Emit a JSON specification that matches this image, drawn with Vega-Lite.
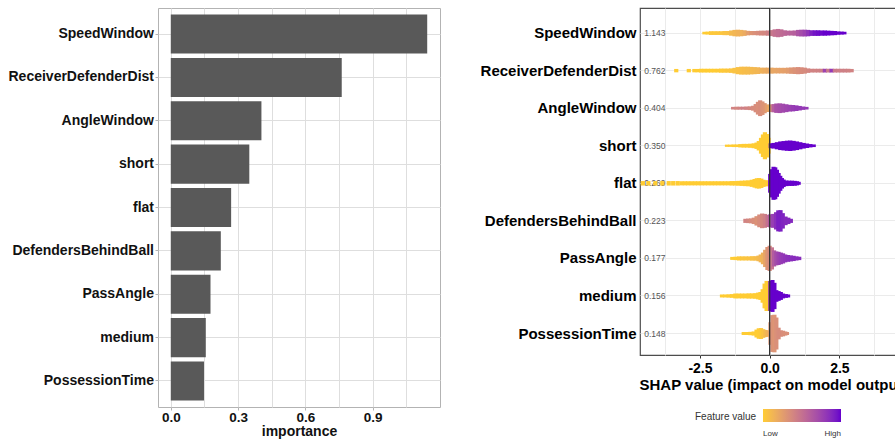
{
  "$schema": "https://vega.github.io/schema/vega-lite/v6.json",
  "padding": {"left": 7, "top": 6, "right": 0, "bottom": 0},
  "background": "white",
  "config": {"font": "Liberation Sans"},
  "datasets": {
    "imp": [
      {"feature": "SpeedWindow", "importance": 1.143},
      {"feature": "ReceiverDefenderDist", "importance": 0.762},
      {"feature": "AngleWindow", "importance": 0.404},
      {"feature": "short", "importance": 0.350},
      {"feature": "flat", "importance": 0.269},
      {"feature": "DefendersBehindBall", "importance": 0.223},
      {"feature": "PassAngle", "importance": 0.177},
      {"feature": "medium", "importance": 0.156},
      {"feature": "PossessionTime", "importance": 0.148}
    ],
    "swarm": [
      {"feature": "SpeedWindow", "shap": -2.34, "density": 0.07, "value": 0},
      {"feature": "SpeedWindow", "shap": -2.22, "density": 0.08, "value": 0},
      {"feature": "SpeedWindow", "shap": -2.10, "density": 0.10, "value": 0.02},
      {"feature": "SpeedWindow", "shap": -1.98, "density": 0.10, "value": 0.02},
      {"feature": "SpeedWindow", "shap": -1.86, "density": 0.10, "value": 0.03},
      {"feature": "SpeedWindow", "shap": -1.74, "density": 0.10, "value": 0.03},
      {"feature": "SpeedWindow", "shap": -1.62, "density": 0.11, "value": 0.05},
      {"feature": "SpeedWindow", "shap": -1.50, "density": 0.11, "value": 0.06},
      {"feature": "SpeedWindow", "shap": -1.38, "density": 0.14, "value": 0.10},
      {"feature": "SpeedWindow", "shap": -1.26, "density": 0.17, "value": 0.12},
      {"feature": "SpeedWindow", "shap": -1.14, "density": 0.18, "value": 0.14},
      {"feature": "SpeedWindow", "shap": -1.02, "density": 0.17, "value": 0.15},
      {"feature": "SpeedWindow", "shap": -0.90, "density": 0.15, "value": 0.18},
      {"feature": "SpeedWindow", "shap": -0.78, "density": 0.12, "value": 0.25},
      {"feature": "SpeedWindow", "shap": -0.66, "density": 0.11, "value": 0.30},
      {"feature": "SpeedWindow", "shap": -0.54, "density": 0.11, "value": 0.33},
      {"feature": "SpeedWindow", "shap": -0.42, "density": 0.12, "value": 0.35},
      {"feature": "SpeedWindow", "shap": -0.30, "density": 0.13, "value": 0.37},
      {"feature": "SpeedWindow", "shap": -0.18, "density": 0.13, "value": 0.38},
      {"feature": "SpeedWindow", "shap": -0.06, "density": 0.14, "value": 0.42},
      {"feature": "SpeedWindow", "shap": 0.06, "density": 0.16, "value": 0.46},
      {"feature": "SpeedWindow", "shap": 0.18, "density": 0.20, "value": 0.50},
      {"feature": "SpeedWindow", "shap": 0.30, "density": 0.22, "value": 0.52},
      {"feature": "SpeedWindow", "shap": 0.42, "density": 0.20, "value": 0.53},
      {"feature": "SpeedWindow", "shap": 0.54, "density": 0.15, "value": 0.55},
      {"feature": "SpeedWindow", "shap": 0.66, "density": 0.13, "value": 0.57},
      {"feature": "SpeedWindow", "shap": 0.78, "density": 0.13, "value": 0.58},
      {"feature": "SpeedWindow", "shap": 0.90, "density": 0.14, "value": 0.60},
      {"feature": "SpeedWindow", "shap": 1.02, "density": 0.17, "value": 0.66},
      {"feature": "SpeedWindow", "shap": 1.14, "density": 0.18, "value": 0.70},
      {"feature": "SpeedWindow", "shap": 1.26, "density": 0.18, "value": 0.75},
      {"feature": "SpeedWindow", "shap": 1.38, "density": 0.17, "value": 0.82},
      {"feature": "SpeedWindow", "shap": 1.50, "density": 0.15, "value": 0.90},
      {"feature": "SpeedWindow", "shap": 1.62, "density": 0.15, "value": 0.95},
      {"feature": "SpeedWindow", "shap": 1.74, "density": 0.15, "value": 0.97},
      {"feature": "SpeedWindow", "shap": 1.86, "density": 0.14, "value": 0.98},
      {"feature": "SpeedWindow", "shap": 1.98, "density": 0.14, "value": 1},
      {"feature": "SpeedWindow", "shap": 2.10, "density": 0.13, "value": 1},
      {"feature": "SpeedWindow", "shap": 2.22, "density": 0.12, "value": 1},
      {"feature": "SpeedWindow", "shap": 2.34, "density": 0.11, "value": 1},
      {"feature": "SpeedWindow", "shap": 2.46, "density": 0.09, "value": 1},
      {"feature": "SpeedWindow", "shap": 2.58, "density": 0.08, "value": 1},
      {"feature": "SpeedWindow", "shap": 2.68, "density": 0.07, "value": 1},

      {"feature": "ReceiverDefenderDist", "shap": -3.35, "density": 0.09, "value": 0},
      {"feature": "ReceiverDefenderDist", "shap": -2.90, "density": 0.09, "value": 0},
      {"feature": "ReceiverDefenderDist", "shap": -2.70, "density": 0.09, "value": 0},
      {"feature": "ReceiverDefenderDist", "shap": -2.58, "density": 0.09, "value": 0},
      {"feature": "ReceiverDefenderDist", "shap": -2.46, "density": 0.10, "value": 0},
      {"feature": "ReceiverDefenderDist", "shap": -2.34, "density": 0.10, "value": 0},
      {"feature": "ReceiverDefenderDist", "shap": -2.22, "density": 0.10, "value": 0},
      {"feature": "ReceiverDefenderDist", "shap": -2.10, "density": 0.10, "value": 0},
      {"feature": "ReceiverDefenderDist", "shap": -1.98, "density": 0.10, "value": 0},
      {"feature": "ReceiverDefenderDist", "shap": -1.86, "density": 0.10, "value": 0.01},
      {"feature": "ReceiverDefenderDist", "shap": -1.74, "density": 0.11, "value": 0.01},
      {"feature": "ReceiverDefenderDist", "shap": -1.62, "density": 0.11, "value": 0.02},
      {"feature": "ReceiverDefenderDist", "shap": -1.50, "density": 0.11, "value": 0.03},
      {"feature": "ReceiverDefenderDist", "shap": -1.38, "density": 0.12, "value": 0.04},
      {"feature": "ReceiverDefenderDist", "shap": -1.26, "density": 0.15, "value": 0.05},
      {"feature": "ReceiverDefenderDist", "shap": -1.14, "density": 0.19, "value": 0.06},
      {"feature": "ReceiverDefenderDist", "shap": -1.02, "density": 0.21, "value": 0.07},
      {"feature": "ReceiverDefenderDist", "shap": -0.90, "density": 0.21, "value": 0.08},
      {"feature": "ReceiverDefenderDist", "shap": -0.78, "density": 0.21, "value": 0.09},
      {"feature": "ReceiverDefenderDist", "shap": -0.66, "density": 0.20, "value": 0.10},
      {"feature": "ReceiverDefenderDist", "shap": -0.54, "density": 0.19, "value": 0.11},
      {"feature": "ReceiverDefenderDist", "shap": -0.42, "density": 0.18, "value": 0.12},
      {"feature": "ReceiverDefenderDist", "shap": -0.30, "density": 0.16, "value": 0.15},
      {"feature": "ReceiverDefenderDist", "shap": -0.18, "density": 0.16, "value": 0.17},
      {"feature": "ReceiverDefenderDist", "shap": -0.06, "density": 0.16, "value": 0.19},
      {"feature": "ReceiverDefenderDist", "shap": 0.06, "density": 0.16, "value": 0.20},
      {"feature": "ReceiverDefenderDist", "shap": 0.18, "density": 0.15, "value": 0.21},
      {"feature": "ReceiverDefenderDist", "shap": 0.30, "density": 0.15, "value": 0.22},
      {"feature": "ReceiverDefenderDist", "shap": 0.42, "density": 0.15, "value": 0.23},
      {"feature": "ReceiverDefenderDist", "shap": 0.54, "density": 0.15, "value": 0.24},
      {"feature": "ReceiverDefenderDist", "shap": 0.66, "density": 0.16, "value": 0.26},
      {"feature": "ReceiverDefenderDist", "shap": 0.78, "density": 0.17, "value": 0.30},
      {"feature": "ReceiverDefenderDist", "shap": 0.90, "density": 0.18, "value": 0.32},
      {"feature": "ReceiverDefenderDist", "shap": 1.02, "density": 0.19, "value": 0.34},
      {"feature": "ReceiverDefenderDist", "shap": 1.14, "density": 0.18, "value": 0.35},
      {"feature": "ReceiverDefenderDist", "shap": 1.26, "density": 0.16, "value": 0.36},
      {"feature": "ReceiverDefenderDist", "shap": 1.38, "density": 0.12, "value": 0.38},
      {"feature": "ReceiverDefenderDist", "shap": 1.50, "density": 0.10, "value": 0.40},
      {"feature": "ReceiverDefenderDist", "shap": 1.62, "density": 0.10, "value": 0.40},
      {"feature": "ReceiverDefenderDist", "shap": 1.74, "density": 0.10, "value": 0.41},
      {"feature": "ReceiverDefenderDist", "shap": 1.86, "density": 0.10, "value": 0.42},
      {"feature": "ReceiverDefenderDist", "shap": 1.98, "density": 0.10, "value": 0.75},
      {"feature": "ReceiverDefenderDist", "shap": 2.10, "density": 0.10, "value": 0.45},
      {"feature": "ReceiverDefenderDist", "shap": 2.22, "density": 0.10, "value": 0.80},
      {"feature": "ReceiverDefenderDist", "shap": 2.34, "density": 0.10, "value": 0.45},
      {"feature": "ReceiverDefenderDist", "shap": 2.46, "density": 0.10, "value": 0.43},
      {"feature": "ReceiverDefenderDist", "shap": 2.58, "density": 0.10, "value": 0.42},
      {"feature": "ReceiverDefenderDist", "shap": 2.70, "density": 0.10, "value": 0.42},
      {"feature": "ReceiverDefenderDist", "shap": 2.82, "density": 0.10, "value": 0.41},
      {"feature": "ReceiverDefenderDist", "shap": 2.94, "density": 0.09, "value": 0.40},

      {"feature": "AngleWindow", "shap": -1.31, "density": 0.07, "value": 0.40},
      {"feature": "AngleWindow", "shap": -1.19, "density": 0.08, "value": 0.38},
      {"feature": "AngleWindow", "shap": -1.07, "density": 0.08, "value": 0.40},
      {"feature": "AngleWindow", "shap": -0.95, "density": 0.08, "value": 0.42},
      {"feature": "AngleWindow", "shap": -0.83, "density": 0.09, "value": 0.40},
      {"feature": "AngleWindow", "shap": -0.71, "density": 0.10, "value": 0.38},
      {"feature": "AngleWindow", "shap": -0.59, "density": 0.13, "value": 0.36},
      {"feature": "AngleWindow", "shap": -0.50, "density": 0.22, "value": 0.35},
      {"feature": "AngleWindow", "shap": -0.42, "density": 0.34, "value": 0.34},
      {"feature": "AngleWindow", "shap": -0.34, "density": 0.42, "value": 0.35},
      {"feature": "AngleWindow", "shap": -0.26, "density": 0.36, "value": 0.32},
      {"feature": "AngleWindow", "shap": -0.18, "density": 0.27, "value": 0.30},
      {"feature": "AngleWindow", "shap": -0.10, "density": 0.20, "value": 0.25},
      {"feature": "AngleWindow", "shap": -0.02, "density": 0.18, "value": 0.20},
      {"feature": "AngleWindow", "shap": 0.06, "density": 0.20, "value": 0.30},
      {"feature": "AngleWindow", "shap": 0.14, "density": 0.22, "value": 0.60},
      {"feature": "AngleWindow", "shap": 0.24, "density": 0.25, "value": 0.68},
      {"feature": "AngleWindow", "shap": 0.36, "density": 0.26, "value": 0.70},
      {"feature": "AngleWindow", "shap": 0.48, "density": 0.24, "value": 0.72},
      {"feature": "AngleWindow", "shap": 0.60, "density": 0.21, "value": 0.74},
      {"feature": "AngleWindow", "shap": 0.72, "density": 0.18, "value": 0.76},
      {"feature": "AngleWindow", "shap": 0.84, "density": 0.17, "value": 0.78},
      {"feature": "AngleWindow", "shap": 0.96, "density": 0.15, "value": 0.80},
      {"feature": "AngleWindow", "shap": 1.08, "density": 0.12, "value": 0.80},
      {"feature": "AngleWindow", "shap": 1.20, "density": 0.09, "value": 0.80},
      {"feature": "AngleWindow", "shap": 1.32, "density": 0.07, "value": 0.80},

      {"feature": "short", "shap": -1.53, "density": 0.06, "value": 0},
      {"feature": "short", "shap": -1.41, "density": 0.06, "value": 0},
      {"feature": "short", "shap": -1.29, "density": 0.07, "value": 0},
      {"feature": "short", "shap": -1.17, "density": 0.07, "value": 0},
      {"feature": "short", "shap": -1.05, "density": 0.09, "value": 0},
      {"feature": "short", "shap": -0.93, "density": 0.10, "value": 0},
      {"feature": "short", "shap": -0.81, "density": 0.10, "value": 0},
      {"feature": "short", "shap": -0.69, "density": 0.11, "value": 0},
      {"feature": "short", "shap": -0.57, "density": 0.13, "value": 0},
      {"feature": "short", "shap": -0.47, "density": 0.17, "value": 0},
      {"feature": "short", "shap": -0.39, "density": 0.25, "value": 0},
      {"feature": "short", "shap": -0.31, "density": 0.42, "value": 0},
      {"feature": "short", "shap": -0.24, "density": 0.60, "value": 0},
      {"feature": "short", "shap": -0.17, "density": 0.72, "value": 0},
      {"feature": "short", "shap": -0.10, "density": 0.62, "value": 0},
      {"feature": "short", "shap": -0.04, "density": 0.42, "value": 0},
      {"feature": "short", "shap": 0.04, "density": 0.13, "value": 1},
      {"feature": "short", "shap": 0.14, "density": 0.15, "value": 1},
      {"feature": "short", "shap": 0.26, "density": 0.19, "value": 1},
      {"feature": "short", "shap": 0.38, "density": 0.23, "value": 1},
      {"feature": "short", "shap": 0.50, "density": 0.25, "value": 1},
      {"feature": "short", "shap": 0.62, "density": 0.27, "value": 1},
      {"feature": "short", "shap": 0.74, "density": 0.28, "value": 1},
      {"feature": "short", "shap": 0.86, "density": 0.26, "value": 1},
      {"feature": "short", "shap": 0.98, "density": 0.23, "value": 1},
      {"feature": "short", "shap": 1.10, "density": 0.19, "value": 1},
      {"feature": "short", "shap": 1.22, "density": 0.15, "value": 1},
      {"feature": "short", "shap": 1.34, "density": 0.12, "value": 1},
      {"feature": "short", "shap": 1.46, "density": 0.09, "value": 1},
      {"feature": "short", "shap": 1.58, "density": 0.07, "value": 1},

      {"feature": "flat", "shap": -4.55, "density": 0.12, "value": 0},
      {"feature": "flat", "shap": -4.35, "density": 0.12, "value": 0},
      {"feature": "flat", "shap": -4.10, "density": 0.12, "value": 0},
      {"feature": "flat", "shap": -3.85, "density": 0.12, "value": 0},
      {"feature": "flat", "shap": -3.62, "density": 0.12, "value": 0},
      {"feature": "flat", "shap": -3.46, "density": 0.12, "value": 0},
      {"feature": "flat", "shap": -3.30, "density": 0.12, "value": 0},
      {"feature": "flat", "shap": -3.16, "density": 0.11, "value": 0},
      {"feature": "flat", "shap": -3.04, "density": 0.11, "value": 0},
      {"feature": "flat", "shap": -2.92, "density": 0.11, "value": 0},
      {"feature": "flat", "shap": -2.80, "density": 0.11, "value": 0},
      {"feature": "flat", "shap": -2.68, "density": 0.11, "value": 0},
      {"feature": "flat", "shap": -2.56, "density": 0.11, "value": 0},
      {"feature": "flat", "shap": -2.44, "density": 0.11, "value": 0},
      {"feature": "flat", "shap": -2.32, "density": 0.11, "value": 0},
      {"feature": "flat", "shap": -2.20, "density": 0.11, "value": 0},
      {"feature": "flat", "shap": -2.08, "density": 0.11, "value": 0},
      {"feature": "flat", "shap": -1.96, "density": 0.11, "value": 0},
      {"feature": "flat", "shap": -1.84, "density": 0.11, "value": 0},
      {"feature": "flat", "shap": -1.72, "density": 0.11, "value": 0},
      {"feature": "flat", "shap": -1.60, "density": 0.11, "value": 0},
      {"feature": "flat", "shap": -1.48, "density": 0.11, "value": 0},
      {"feature": "flat", "shap": -1.36, "density": 0.12, "value": 0},
      {"feature": "flat", "shap": -1.24, "density": 0.12, "value": 0},
      {"feature": "flat", "shap": -1.12, "density": 0.13, "value": 0},
      {"feature": "flat", "shap": -1.00, "density": 0.14, "value": 0},
      {"feature": "flat", "shap": -0.88, "density": 0.15, "value": 0},
      {"feature": "flat", "shap": -0.76, "density": 0.16, "value": 0},
      {"feature": "flat", "shap": -0.64, "density": 0.19, "value": 0},
      {"feature": "flat", "shap": -0.54, "density": 0.23, "value": 0},
      {"feature": "flat", "shap": -0.46, "density": 0.27, "value": 0},
      {"feature": "flat", "shap": -0.38, "density": 0.28, "value": 0},
      {"feature": "flat", "shap": -0.30, "density": 0.25, "value": 0},
      {"feature": "flat", "shap": -0.22, "density": 0.19, "value": 0},
      {"feature": "flat", "shap": -0.14, "density": 0.16, "value": 0},
      {"feature": "flat", "shap": -0.06, "density": 0.15, "value": 0},
      {"feature": "flat", "shap": 0.02, "density": 0.50, "value": 1},
      {"feature": "flat", "shap": 0.08, "density": 0.75, "value": 1},
      {"feature": "flat", "shap": 0.14, "density": 0.88, "value": 1},
      {"feature": "flat", "shap": 0.20, "density": 0.85, "value": 1},
      {"feature": "flat", "shap": 0.26, "density": 0.72, "value": 1},
      {"feature": "flat", "shap": 0.32, "density": 0.55, "value": 1},
      {"feature": "flat", "shap": 0.38, "density": 0.40, "value": 1},
      {"feature": "flat", "shap": 0.44, "density": 0.28, "value": 1},
      {"feature": "flat", "shap": 0.50, "density": 0.20, "value": 1},
      {"feature": "flat", "shap": 0.60, "density": 0.15, "value": 1},
      {"feature": "flat", "shap": 0.70, "density": 0.14, "value": 1},
      {"feature": "flat", "shap": 0.80, "density": 0.14, "value": 1},
      {"feature": "flat", "shap": 0.90, "density": 0.13, "value": 1},
      {"feature": "flat", "shap": 0.98, "density": 0.11, "value": 1},
      {"feature": "flat", "shap": 1.04, "density": 0.08, "value": 1},

      {"feature": "DefendersBehindBall", "shap": -0.87, "density": 0.11, "value": 0.40},
      {"feature": "DefendersBehindBall", "shap": -0.77, "density": 0.12, "value": 0.38},
      {"feature": "DefendersBehindBall", "shap": -0.67, "density": 0.13, "value": 0.36},
      {"feature": "DefendersBehindBall", "shap": -0.57, "density": 0.17, "value": 0.34},
      {"feature": "DefendersBehindBall", "shap": -0.47, "density": 0.25, "value": 0.32},
      {"feature": "DefendersBehindBall", "shap": -0.37, "density": 0.34, "value": 0.35},
      {"feature": "DefendersBehindBall", "shap": -0.27, "density": 0.39, "value": 0.38},
      {"feature": "DefendersBehindBall", "shap": -0.17, "density": 0.37, "value": 0.42},
      {"feature": "DefendersBehindBall", "shap": -0.07, "density": 0.33, "value": 0.50},
      {"feature": "DefendersBehindBall", "shap": 0.03, "density": 0.35, "value": 0.70},
      {"feature": "DefendersBehindBall", "shap": 0.13, "density": 0.37, "value": 0.78},
      {"feature": "DefendersBehindBall", "shap": 0.23, "density": 0.46, "value": 0.85},
      {"feature": "DefendersBehindBall", "shap": 0.31, "density": 0.56, "value": 0.92},
      {"feature": "DefendersBehindBall", "shap": 0.39, "density": 0.57, "value": 0.92},
      {"feature": "DefendersBehindBall", "shap": 0.47, "density": 0.41, "value": 0.90},
      {"feature": "DefendersBehindBall", "shap": 0.57, "density": 0.23, "value": 0.88},
      {"feature": "DefendersBehindBall", "shap": 0.67, "density": 0.17, "value": 0.88},
      {"feature": "DefendersBehindBall", "shap": 0.76, "density": 0.11, "value": 0.88},

      {"feature": "PassAngle", "shap": -1.34, "density": 0.08, "value": 0},
      {"feature": "PassAngle", "shap": -1.22, "density": 0.09, "value": 0},
      {"feature": "PassAngle", "shap": -1.10, "density": 0.11, "value": 0.02},
      {"feature": "PassAngle", "shap": -0.98, "density": 0.11, "value": 0.03},
      {"feature": "PassAngle", "shap": -0.86, "density": 0.11, "value": 0.04},
      {"feature": "PassAngle", "shap": -0.74, "density": 0.11, "value": 0.05},
      {"feature": "PassAngle", "shap": -0.62, "density": 0.12, "value": 0.06},
      {"feature": "PassAngle", "shap": -0.50, "density": 0.12, "value": 0.08},
      {"feature": "PassAngle", "shap": -0.40, "density": 0.15, "value": 0.10},
      {"feature": "PassAngle", "shap": -0.32, "density": 0.21, "value": 0.12},
      {"feature": "PassAngle", "shap": -0.24, "density": 0.31, "value": 0.15},
      {"feature": "PassAngle", "shap": -0.16, "density": 0.46, "value": 0.22},
      {"feature": "PassAngle", "shap": -0.08, "density": 0.61, "value": 0.30},
      {"feature": "PassAngle", "shap": 0.00, "density": 0.67, "value": 0.36},
      {"feature": "PassAngle", "shap": 0.08, "density": 0.59, "value": 0.48},
      {"feature": "PassAngle", "shap": 0.16, "density": 0.43, "value": 0.62},
      {"feature": "PassAngle", "shap": 0.24, "density": 0.37, "value": 0.70},
      {"feature": "PassAngle", "shap": 0.32, "density": 0.35, "value": 0.75},
      {"feature": "PassAngle", "shap": 0.40, "density": 0.31, "value": 0.78},
      {"feature": "PassAngle", "shap": 0.48, "density": 0.27, "value": 0.80},
      {"feature": "PassAngle", "shap": 0.56, "density": 0.21, "value": 0.82},
      {"feature": "PassAngle", "shap": 0.66, "density": 0.18, "value": 0.84},
      {"feature": "PassAngle", "shap": 0.76, "density": 0.16, "value": 0.85},
      {"feature": "PassAngle", "shap": 0.86, "density": 0.14, "value": 0.86},
      {"feature": "PassAngle", "shap": 0.96, "density": 0.11, "value": 0.86},
      {"feature": "PassAngle", "shap": 1.06, "density": 0.09, "value": 0.86},

      {"feature": "medium", "shap": -1.71, "density": 0.08, "value": 0},
      {"feature": "medium", "shap": -1.59, "density": 0.08, "value": 0},
      {"feature": "medium", "shap": -1.47, "density": 0.09, "value": 0},
      {"feature": "medium", "shap": -1.35, "density": 0.10, "value": 0},
      {"feature": "medium", "shap": -1.23, "density": 0.13, "value": 0},
      {"feature": "medium", "shap": -1.11, "density": 0.13, "value": 0},
      {"feature": "medium", "shap": -0.99, "density": 0.13, "value": 0},
      {"feature": "medium", "shap": -0.87, "density": 0.13, "value": 0},
      {"feature": "medium", "shap": -0.75, "density": 0.14, "value": 0},
      {"feature": "medium", "shap": -0.63, "density": 0.14, "value": 0},
      {"feature": "medium", "shap": -0.51, "density": 0.15, "value": 0},
      {"feature": "medium", "shap": -0.41, "density": 0.18, "value": 0},
      {"feature": "medium", "shap": -0.33, "density": 0.21, "value": 0},
      {"feature": "medium", "shap": -0.25, "density": 0.36, "value": 0},
      {"feature": "medium", "shap": -0.18, "density": 0.66, "value": 0},
      {"feature": "medium", "shap": -0.11, "density": 0.80, "value": 0},
      {"feature": "medium", "shap": -0.05, "density": 0.78, "value": 0},
      {"feature": "medium", "shap": 0.03, "density": 0.80, "value": 1},
      {"feature": "medium", "shap": 0.10, "density": 0.85, "value": 1},
      {"feature": "medium", "shap": 0.17, "density": 0.70, "value": 1},
      {"feature": "medium", "shap": 0.24, "density": 0.31, "value": 1},
      {"feature": "medium", "shap": 0.32, "density": 0.26, "value": 1},
      {"feature": "medium", "shap": 0.40, "density": 0.21, "value": 1},
      {"feature": "medium", "shap": 0.48, "density": 0.13, "value": 1},
      {"feature": "medium", "shap": 0.58, "density": 0.10, "value": 1},
      {"feature": "medium", "shap": 0.66, "density": 0.08, "value": 1},

      {"feature": "PossessionTime", "shap": -0.93, "density": 0.08, "value": 0},
      {"feature": "PossessionTime", "shap": -0.81, "density": 0.08, "value": 0},
      {"feature": "PossessionTime", "shap": -0.69, "density": 0.09, "value": 0},
      {"feature": "PossessionTime", "shap": -0.57, "density": 0.11, "value": 0},
      {"feature": "PossessionTime", "shap": -0.47, "density": 0.21, "value": 0},
      {"feature": "PossessionTime", "shap": -0.39, "density": 0.28, "value": 0},
      {"feature": "PossessionTime", "shap": -0.31, "density": 0.29, "value": 0.02},
      {"feature": "PossessionTime", "shap": -0.23, "density": 0.23, "value": 0.05},
      {"feature": "PossessionTime", "shap": -0.15, "density": 0.19, "value": 0.10},
      {"feature": "PossessionTime", "shap": -0.07, "density": 0.17, "value": 0.15},
      {"feature": "PossessionTime", "shap": 0.03, "density": 0.60, "value": 0.30},
      {"feature": "PossessionTime", "shap": 0.10, "density": 0.98, "value": 0.32},
      {"feature": "PossessionTime", "shap": 0.17, "density": 1.00, "value": 0.30},
      {"feature": "PossessionTime", "shap": 0.24, "density": 0.85, "value": 0.33},
      {"feature": "PossessionTime", "shap": 0.32, "density": 0.31, "value": 0.35},
      {"feature": "PossessionTime", "shap": 0.40, "density": 0.17, "value": 0.35},
      {"feature": "PossessionTime", "shap": 0.48, "density": 0.15, "value": 0.34},
      {"feature": "PossessionTime", "shap": 0.56, "density": 0.11, "value": 0.33},
      {"feature": "PossessionTime", "shap": 0.62, "density": 0.08, "value": 0.33}
    ]
  },
  "hconcat": [
    {
      "width": 282,
      "height": 399,
      "data": {"name": "imp"},
      "view": {"stroke": "#B3B3B3", "strokeWidth": 1},
      "mark": {"type": "bar", "color": "#595959"},
      "encoding": {
        "y": {
          "field": "feature",
          "type": "nominal",
          "sort": ["SpeedWindow", "ReceiverDefenderDist", "AngleWindow", "short", "flat", "DefendersBehindBall", "PassAngle", "medium", "PossessionTime"],
          "scale": {"paddingInner": 0.1, "paddingOuter": 0.15},
          "axis": {
            "title": null,
            "labelFontSize": 14,
            "labelFontWeight": "bold",
            "labelColor": "#111111",
            "labelPadding": 1.5,
            "labelLimit": 300,
            "tickSize": 3,
            "tickColor": "#B3B3B3",
            "domain": false,
            "grid": true,
            "gridColor": "#DEDEDE",
            "bandPosition": 0.5
          }
        },
        "x": {
          "field": "importance",
          "type": "quantitative",
          "scale": {"domain": [-0.057, 1.2], "nice": false},
          "axis": {
            "title": "importance",
            "titleFontSize": 14,
            "titleFontWeight": "bold",
            "titleColor": "#111111",
            "titlePadding": 0,
            "values": [0, 0.15, 0.3, 0.45, 0.6, 0.75, 0.9, 1.05],
            "labelExpr": "indexof([0, 0.3, 0.6, 0.9], datum.value) >= 0 ? format(datum.value, '.1f') : ''",
            "labelFontSize": 13.5,
            "labelFontWeight": "bold",
            "labelColor": "#111111",
            "labelPadding": 0.5,
            "tickSize": 3,
            "tickColor": "#B3B3B3",
            "tickOpacity": {"condition": {"test": "indexof([0, 0.3, 0.6, 0.9], datum.value) < 0", "value": 0}, "value": 1},
            "domain": false,
            "grid": true,
            "gridColor": "#DEDEDE"
          }
        }
      }
    },
    {
      "width": 266,
      "height": 347,
      "view": {"stroke": "#4D4D4D", "strokeWidth": 1.2},
      "layer": [
        {
          "data": {"name": "imp"},
          "mark": {"type": "text", "align": "left", "baseline": "middle", "fontSize": 8.5, "color": "#555555"},
          "encoding": {
            "y": {
              "field": "feature",
              "type": "nominal",
              "sort": ["SpeedWindow", "ReceiverDefenderDist", "AngleWindow", "short", "flat", "DefendersBehindBall", "PassAngle", "medium", "PossessionTime"],
              "scale": {"paddingInner": 0, "paddingOuter": 0.12, "align": 0.7},
              "axis": {
                "title": null,
                "labelFontSize": 15,
                "labelFontWeight": "bold",
                "labelColor": "#000000",
                "labelPadding": 4,
                "labelLimit": 300,
                "tickSize": 0,
                "domain": false,
                "grid": true,
                "gridColor": "#EBEBEB",
                "bandPosition": 0.5
              }
            },
            "x": {"datum": -4.5, "type": "quantitative"},
            "text": {"field": "importance", "type": "quantitative", "format": ".3f"}
          }
        },
        {
          "data": {"name": "swarm"},
          "mark": {"type": "tick", "thickness": 4.2, "opacity": 1, "orient": "vertical"},
          "encoding": {
            "y": {
              "field": "feature",
              "type": "nominal",
              "sort": ["SpeedWindow", "ReceiverDefenderDist", "AngleWindow", "short", "flat", "DefendersBehindBall", "PassAngle", "medium", "PossessionTime"],
              "scale": {"paddingInner": 0, "paddingOuter": 0.12, "align": 0.7},
              "axis": {
                "title": null,
                "labelFontSize": 15,
                "labelFontWeight": "bold",
                "labelColor": "#000000",
                "labelPadding": 4,
                "labelLimit": 300,
                "tickSize": 0,
                "domain": false,
                "grid": true,
                "gridColor": "#EBEBEB",
                "bandPosition": 0.5
              }
            },
            "x": {
              "field": "shap",
              "type": "quantitative",
              "scale": {"domain": [-4.65, 4.89], "nice": false, "zero": false},
              "axis": {
                "title": "SHAP value (impact on model output)",
                "titleFontSize": 15,
                "titleFontWeight": "bold",
                "titleColor": "#000000",
                "titlePadding": 2,
                "values": [-3.75, -2.5, -1.25, 0, 1.25, 2.5, 3.75],
                "labelExpr": "datum.value % 2.5 == 0 ? replace(format(datum.value, '.1f'), '\u2212', '-') : ''",
                "labelFontSize": 14,
                "labelFontWeight": "bold",
                "labelColor": "#000000",
                "labelPadding": 3,
                "tickSize": 3,
                "tickColor": "#333333",
                "tickOpacity": {"condition": {"test": "datum.value % 2.5 != 0", "value": 0}, "value": 1},
                "domain": false,
                "grid": true,
                "gridColor": "#EBEBEB"
              }
            },
            "size": {
              "field": "density",
              "type": "quantitative",
              "scale": {"domain": [0, 2], "range": [0, 75.2]},
              "legend": null
            },
            "color": {
              "field": "value",
              "type": "quantitative",
              "scale": {"range": ["#FFCC33", "#6600CC"], "interpolate": "lab"},
              "legend": {
                "type": "gradient",
                "orient": "none",
                "legendX": 537,
                "legendY": 401,
                "direction": "horizontal",
                "title": "Feature value",
                "titleOrient": "left",
                "titleFontSize": 10,
                "titleFontWeight": "normal",
                "titleColor": "#333333",
                "titleBaseline": "bottom",
                "titleAnchor": "end",
                "titlePadding": 6,
                "gradientLength": 78,
                "gradientThickness": 13,
                "gradientStrokeWidth": 0,
                "values": [0, 1],
                "labelExpr": "datum.value < 0.5 ? 'Low' : 'High'",
                "labelFontSize": 8,
                "labelAlign": "center",
                "labelOffset": 8,
                "labelColor": "#333333",
                "padding": 0
              }
            }
          }
        },
        {
          "data": {"values": [{}]},
          "mark": {"type": "rule", "color": "#333333", "strokeWidth": 1.3},
          "encoding": {"x": {"datum": 0, "type": "quantitative"}}
        }
      ]
    }
  ],
  "spacing": 38
}
